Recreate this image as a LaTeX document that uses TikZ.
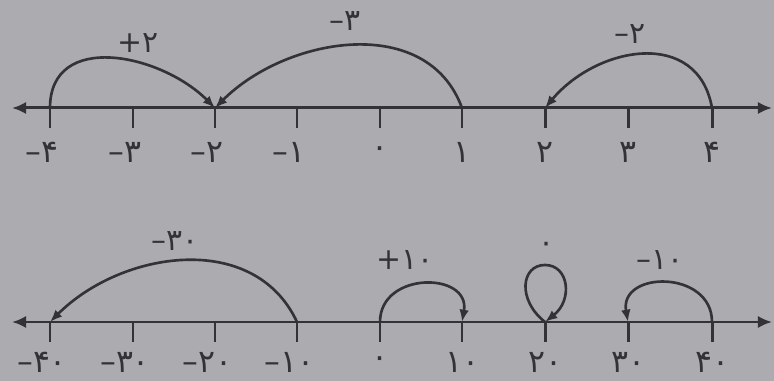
\documentclass[tikz,border=0pt]{standalone}
\usepackage{fontspec}
\setmainfont{DejaVu Sans}
\usetikzlibrary{arrows.meta}
\definecolor{pagegray}{RGB}{172,172,176}
\definecolor{inkgray}{RGB}{50,50,55}

\begin{document}
\begin{tikzpicture}[
  x=0.02cm,y=0.02cm,
  axis/.style={inkgray,line width=1.7pt,{Latex[length=8pt,width=7pt]}-{Latex[length=8pt,width=7pt]}},
  tk/.style={inkgray,line width=1.7pt},
  jump/.style={inkgray,line width=1.5pt,-{Latex[length=7pt,width=5.5pt]}},
  num/.style={text=inkgray,font=\fontsize{18}{20}\selectfont,inner sep=1pt},
  hop/.style={text=inkgray,font=\fontsize{17}{19}\selectfont,inner sep=1pt}
]
  \fill[pagegray] (0,0) rectangle (774,381);
  \useasboundingbox (0,0) rectangle (774,381);

  % upper line: -4 ... 4
  \coordinate (uL) at (12,273);
  \coordinate (uR) at (772,273);
  \draw[axis] (uL) -- (uR);

  \coordinate (um4) at (50,273);
  \coordinate (um3) at (133,273);
  \coordinate (um2) at (215,273);
  \coordinate (um1) at (297,273);
  \coordinate (u0)  at (380,273);
  \coordinate (u1)  at (462,273);
  \coordinate (u2)  at (545,273);
  \coordinate (u3)  at (628,273);
  \coordinate (u4)  at (712,273);

  \draw[tk] (um4) -- ++(0,-20);
  \draw[tk] (um3) -- ++(0,-20);
  \draw[tk] (um2) -- ++(0,-20);
  \draw[tk] (um1) -- ++(0,-20);
  \draw[tk] (u0)  -- ++(0,-20);
  \draw[tk] (u1)  -- ++(0,-20);
  \draw[tk] (u2)  -- ++(0,-20);
  \draw[tk] (u3)  -- ++(0,-20);
  \draw[tk] (u4)  -- ++(0,-20);

  \node[num] (lum4) at (50,229)  {\llap{–}۴};
  \node[num] (lum3) at (133,229) {\llap{–}۳};
  \node[num] (lum2) at (215,229) {\llap{–}۲};
  \node[num] (lum1) at (297,229) {\llap{–}۱};
  \node[num] (lu0)  at (380,229) {۰};
  \node[num] (lu1)  at (462,229) {۱};
  \node[num] (lu2)  at (545,229) {۲};
  \node[num] (lu3)  at (628,229) {۳};
  \node[num] (lu4)  at (712,229) {۴};

  \draw[jump] (um4) to[out=90,in=135,looseness=1.2] (um2);
  \draw[jump] (u1)  to[out=110,in=45,looseness=1.05] (um2);
  \draw[jump] (u4)  to[out=100,in=50,looseness=1.25] (u2);

  \node[hop] (hu1) at (138,338) {+۲};
  \node[hop] (hu2) at (345,360) {–۳};
  \node[hop] (hu3) at (630,347) {–۲};

  % lower line: -40 ... 40
  \coordinate (dL) at (12,59);
  \coordinate (dR) at (772,59);
  \draw[axis] (dL) -- (dR);

  \coordinate (dm40) at (50,59);
  \coordinate (dm30) at (133,59);
  \coordinate (dm20) at (215,59);
  \coordinate (dm10) at (297,59);
  \coordinate (d0)   at (380,59);
  \coordinate (d10)  at (462,59);
  \coordinate (d20)  at (545,59);
  \coordinate (d30)  at (628,59);
  \coordinate (d40)  at (712,59);
  \coordinate (d20top) at (545,116);

  \draw[tk] (dm40) -- ++(0,-20);
  \draw[tk] (dm30) -- ++(0,-20);
  \draw[tk] (dm20) -- ++(0,-20);
  \draw[tk] (dm10) -- ++(0,-20);
  \draw[tk] (d0)   -- ++(0,-20);
  \draw[tk] (d10)  -- ++(0,-20);
  \draw[tk] (d20)  -- ++(0,-20);
  \draw[tk] (d30)  -- ++(0,-20);
  \draw[tk] (d40)  -- ++(0,-20);

  \node[num] (ldm40) at (50,19)  {\llap{–}۴۰};
  \node[num] (ldm30) at (133,19) {\llap{–}۳۰};
  \node[num] (ldm20) at (215,19) {\llap{–}۲۰};
  \node[num] (ldm10) at (297,19) {\llap{–}۱۰};
  \node[num] (ld0)   at (380,19) {۰};
  \node[num] (ld10)  at (462,19) {۱۰};
  \node[num] (ld20)  at (545,19) {۲۰};
  \node[num] (ld30)  at (628,19) {۳۰};
  \node[num] (ld40)  at (712,19) {۴۰};

  \draw[jump] (dm10) to[out=115,in=45,looseness=1.05] (dm40);
  \draw[jump] (d0)   to[out=90,in=80,looseness=1.6] (d10);
  \draw[jump] (d20) .. controls +(-28,22) and +(-24,0) .. (d20top)
                    .. controls +(24,0) and +(28,22) .. (d20);
  \draw[jump] (d40)  to[out=90,in=100,looseness=1.6] (d30);

  \node[hop] (hd1) at (175,140) {–۳۰};
  \node[hop] (hd2) at (405,121) {+۱۰};
  \node[hop] (hd3) at (547,134) {۰};
  \node[hop] (hd4) at (660,121) {–۱۰};
\end{tikzpicture}
\end{document}
